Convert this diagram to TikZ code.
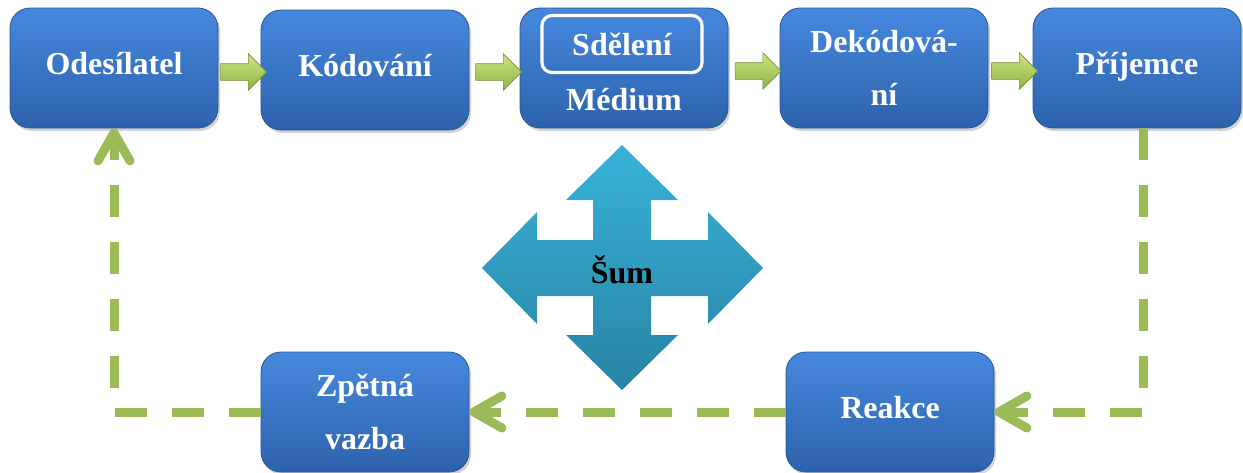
\documentclass[tikz,border=0pt]{standalone}
\usepackage{fontspec}
\setmainfont{Liberation Serif}
\usetikzlibrary{calc,shapes.arrows,arrows.meta,shadows}

\definecolor{boxtop}{RGB}{70,136,222}
\definecolor{boxbot}{RGB}{45,98,172}
\definecolor{boxline}{RGB}{40,86,150}
\definecolor{arrtop}{RGB}{208,228,135}
\definecolor{arrbot}{RGB}{140,180,64}
\definecolor{fbgreen}{RGB}{155,187,89}
\definecolor{noisetop}{RGB}{56,178,216}
\definecolor{noisebot}{RGB}{40,132,164}

\tikzset{
  stage/.style={rounded corners=10pt, top color=boxtop, bottom color=boxbot,
    draw=boxline, line width=0.4pt, minimum width=104pt, minimum height=60pt,
    text=white, font=\fontsize{16}{26.5}\selectfont\bfseries, align=center,
    drop shadow={opacity=0.35, shadow xshift=1pt, shadow yshift=-1.5pt}},
  oneline/.style={text depth=5pt},
  twoline/.style={execute at begin node={\rule{0pt}{22pt}}},
  stagetext/.style={text=white, font=\fontsize{16}{26.5}\selectfont\bfseries},
  msgframe/.style={stagetext, draw=white, line width=1.6pt, rounded corners=5pt,
    minimum width=80pt, minimum height=28.5pt},
  flow/.style={single arrow, single arrow head extend=5pt, inner xsep=0pt,
    inner ysep=4pt, minimum height=23pt, top color=arrtop, bottom color=arrbot,
    draw=arrbot!80!black, line width=0.3pt},
  feedback/.style={draw=fbgreen, line width=4.5pt, dash pattern=on 16pt off 12.5pt,
    -{Straight Barb[length=14pt,width=16pt,round]}},
}

\begin{document}
\begin{tikzpicture}[x=0.5pt, y=-0.5pt]
    \useasboundingbox (0,0) rectangle (1243,472);

    % Upper row
    \node [stage, oneline] (odes) at (114,68) {Odesílatel};
    \node [stage, oneline] (kod) at (365,70) {Kódování};
    \node [stage] (med) at (624,68) {};
    \node [msgframe] (sdel) at (622,44) {Sdělení};
    \node [stagetext] (medl) at (624,100) {Médium};
    \node [stage, twoline] (dek) at (884,68) {Dekódová-\\ní};
    \node [stage, oneline] (prij) at (1137,68) {Příjemce};

    % Lower row
    \node [stage, twoline] (zpet) at (365,412) {Zpětná\\vazba};
    \node [stage, oneline] (reak) at (890,412) {Reakce};

    % Block arrows between stages
    \foreach \a/\b [count=\i] in {odes/kod,kod/med,med/dek,dek/prij}
        \node [flow] (flow\i) at ($(\a.east)!0.5!(\b.west)+(0,3)$) {};

    % Noise
    \path [top color=noisetop, bottom color=noisebot]
        (622,145) -- (678,200) -- (651,200) -- (651,240) -- (708,240) -- (708,212)
        -- (763,268) -- (708,324) -- (708,296) -- (651,296) -- (651,335) -- (678,335)
        -- (622,390) -- (566,335) -- (593,335) -- (593,296) -- (537,296) -- (537,324)
        -- (482,268) -- (537,212) -- (537,240) -- (593,240) -- (593,200) -- (566,200)
        -- cycle;
    \node [font=\fontsize{16}{19}\selectfont\bfseries] (noise) at (622,270) {Šum};

    % Feedback loop
    \draw [feedback] ([xshift=3pt]prij.south) |- (reak.east);
    \draw [feedback] (reak.west) -- (zpet.east);
    \draw [feedback] (zpet.west) -| (odes.south);
\end{tikzpicture}
\end{document}
